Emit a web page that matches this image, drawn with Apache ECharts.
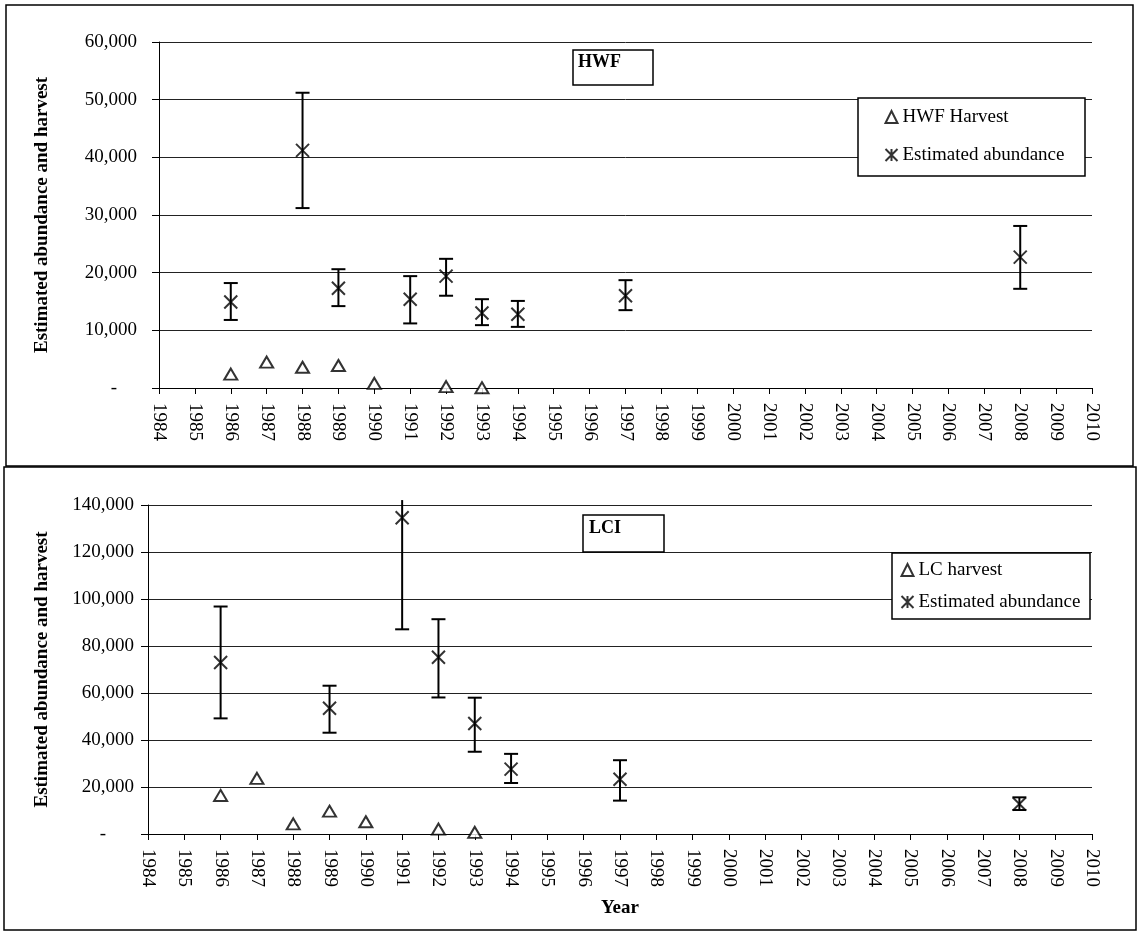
<!DOCTYPE html>
<html>
<head>
<meta charset="utf-8">
<script src="https://cdn.jsdelivr.net/npm/echarts@6/dist/echarts.min.js"></script>
<style>
  html, body { margin: 0; padding: 0; background: #fff; }
  #chart { width: 1138px; height: 933px; }
</style>
</head>
<body>
<div id="chart"></div>
<script>
// HWF panel
var hwfHarvestYears = [1986, 1987, 1988, 1989, 1990, 1992, 1993];
var hwfHarvest = [2400, 4500, 3600, 3900, 800, 250, 50];
var hwfYears = [1986, 1988, 1989, 1991, 1992, 1993, 1994, 1997, 2008];
var hwfAbund = [14900, 41200, 17300, 15400, 19400, 13000, 12800, 16000, 22700];
var hwfLow = [11800, 31200, 14200, 11200, 16000, 10900, 10600, 13500, 17200];
var hwfHigh = [18200, 51200, 20600, 19400, 22400, 15400, 15100, 18700, 28100];

// LCI panel
var lcHarvestYears = [1986, 1987, 1988, 1989, 1990, 1992, 1993];
var lcHarvest = [16400, 23700, 4300, 9700, 5200, 2100, 700];
var lciYears = [1986, 1989, 1991, 1992, 1993, 1994, 1997, 2008];
var lciAbund = [73000, 53500, 134600, 75200, 47000, 27600, 23300, 12800];
var lciLow = [49200, 43100, 87100, 58100, 35000, 21700, 14200, 10200];
var lciHigh = [96800, 63100, 142100, 91400, 58000, 34100, 31400, 15600];

var serif = "'Liberation Serif', 'Times New Roman', serif";
var chart = echarts.init(document.getElementById('chart'));

function fmt(v) {
  if (v === 0) return '{z|-}';
  return String(v).replace(/\B(?=(\d{3})+(?!\d))/g, ',');
}

function pairs(xs, ys) {
  return xs.map(function(x, i) { return [x, ys[i]]; });
}

function triples(xs, lo, hi) {
  return xs.map(function(x, i) { return [x, lo[i], hi[i]]; });
}

function errorBars(yMax) {
  return function(params, api) {
    var x = api.value(0);
    var lo = api.coord([x, api.value(1)]);
    var hi = api.coord([x, api.value(2)]);
    var w = 7;
    var st = { stroke: '#000', lineWidth: 2 };
    var kids = [
      { type: 'line', shape: { x1: lo[0], y1: lo[1], x2: hi[0], y2: hi[1] }, style: st },
      { type: 'line', shape: { x1: lo[0] - w, y1: lo[1], x2: lo[0] + w, y2: lo[1] }, style: st }
    ];
    if (api.value(2) <= yMax) {
      kids.push({ type: 'line', shape: { x1: hi[0] - w, y1: hi[1], x2: hi[0] + w, y2: hi[1] }, style: st });
    }
    return { type: 'group', children: kids };
  };
}

function xAxis(idx, name) {
  return {
    type: 'value', gridIndex: idx, min: 1984, max: 2010, interval: 1,
    name: name || '', nameLocation: 'middle', nameGap: 65,
    nameTextStyle: { fontFamily: serif, fontSize: 19, fontWeight: 'bold', color: '#000' },
    axisLine: { lineStyle: { color: '#000', width: 1 } },
    axisTick: { show: true, length: 6, lineStyle: { color: '#000' } },
    axisLabel: {
      rotate: -90, margin: 15, fontFamily: serif, fontSize: 19, color: '#000',
      formatter: function(v) { return String(v); }
    },
    splitLine: { show: false }
  };
}

function yAxis(idx, max, step, margin, gap, zpad) {
  return {
    type: 'value', gridIndex: idx, min: 0, max: max, interval: step,
    name: 'Estimated abundance and harvest', nameLocation: 'middle', nameGap: gap,
    nameTextStyle: { fontFamily: serif, fontSize: 19, fontWeight: 'bold', color: '#000' },
    axisLine: { show: true, lineStyle: { color: '#000', width: 1 } },
    axisTick: { show: true, length: 7, lineStyle: { color: '#000' } },
    axisLabel: {
      margin: margin, fontFamily: serif, fontSize: 19, color: '#000', formatter: fmt,
      rich: { z: { fontFamily: serif, fontSize: 19, color: '#000', padding: [0, zpad, 0, 0] } }
    },
    splitLine: { show: true, lineStyle: { color: '#222', width: 1 } }
  };
}

var triStyle = { color: '#fff', borderColor: '#000', borderWidth: 2 };
var xStyle = { color: 'none', borderColor: '#000', borderWidth: 2 };
var xPath = 'path://M0,0L10,10M10,0L0,10';
var xIcon = 'path://M0,0L10,10M10,0L0,10M5,0L5,10';

function legend(left, top, gap, harvestName) {
  return {
    left: left, top: top, orient: 'vertical', padding: 0, itemGap: gap,
    itemWidth: 12, itemHeight: 12, selectedMode: false,
    textStyle: { fontFamily: serif, fontSize: 19, color: '#000', lineHeight: 20 },
    data: [
      { name: harvestName, icon: 'triangle', itemStyle: triStyle },
      { name: 'Estimated abundance', icon: xIcon, itemStyle: xStyle }
    ]
  };
}

function box(x, y, w, h, z) {
  return {
    type: 'rect', z: z, silent: true,
    shape: { x: x, y: y, width: w, height: h },
    style: { fill: z > 0 ? '#fff' : 'none', stroke: '#000', lineWidth: 1.5 }
  };
}

function label(x, y, text) {
  return {
    type: 'text', z: 5, silent: true, x: x, y: y,
    style: { text: text, fontFamily: serif, fontSize: 18, fontWeight: 'bold', fill: '#000' }
  };
}

var option = {
  animation: false,
  backgroundColor: '#fff',
  grid: [
    { left: 159, right: 1138 - 1092, top: 42, height: 346 },
    { left: 148, right: 1138 - 1092, top: 505, height: 329 }
  ],
  xAxis: [xAxis(0), xAxis(1, 'Year')],
  yAxis: [yAxis(0, 60000, 10000, 22, 107, 20), yAxis(1, 140000, 20000, 14, 96, 28)],
  legend: [legend(883, 107, 18, 'HWF Harvest'), legend(899, 560, 12, 'LC harvest')],
  graphic: [
    box(6, 5, 1127, 461, 0),
    box(4, 467, 1132, 463, 0),
    box(858, 98, 227, 78, 3),
    box(892, 553, 198, 66, 3),
    box(573, 50, 80, 35, 3),
    box(583, 515, 81, 37, 3),
    label(578, 53, 'HWF'),
    label(589, 519, 'LCI')
  ],
  series: [
    {
      name: 'HWF Harvest', type: 'scatter', xAxisIndex: 0, yAxisIndex: 0,
      symbol: 'triangle', symbolSize: [13, 11], itemStyle: triStyle,
      data: pairs(hwfHarvestYears, hwfHarvest), z: 3
    },
    {
      name: 'HWF error', type: 'custom', xAxisIndex: 0, yAxisIndex: 0,
      renderItem: errorBars(60000), encode: { x: 0, y: [1, 2] },
      data: triples(hwfYears, hwfLow, hwfHigh), z: 2
    },
    {
      name: 'Estimated abundance', type: 'scatter', xAxisIndex: 0, yAxisIndex: 0,
      symbol: xPath, symbolSize: 13, itemStyle: xStyle,
      data: pairs(hwfYears, hwfAbund), z: 3
    },
    {
      name: 'LC harvest', type: 'scatter', xAxisIndex: 1, yAxisIndex: 1,
      symbol: 'triangle', symbolSize: [13, 11], itemStyle: triStyle,
      data: pairs(lcHarvestYears, lcHarvest), z: 3
    },
    {
      name: 'LCI error', type: 'custom', xAxisIndex: 1, yAxisIndex: 1,
      renderItem: errorBars(140000), encode: { x: 0, y: [1, 2] }, clip: false,
      data: triples(lciYears, lciLow, lciHigh), z: 2
    },
    {
      name: 'Estimated abundance', type: 'scatter', xAxisIndex: 1, yAxisIndex: 1,
      symbol: xPath, symbolSize: 13, itemStyle: xStyle,
      data: pairs(lciYears, lciAbund), z: 3
    }
  ]
};

chart.setOption(option);
</script>
</body>
</html>
